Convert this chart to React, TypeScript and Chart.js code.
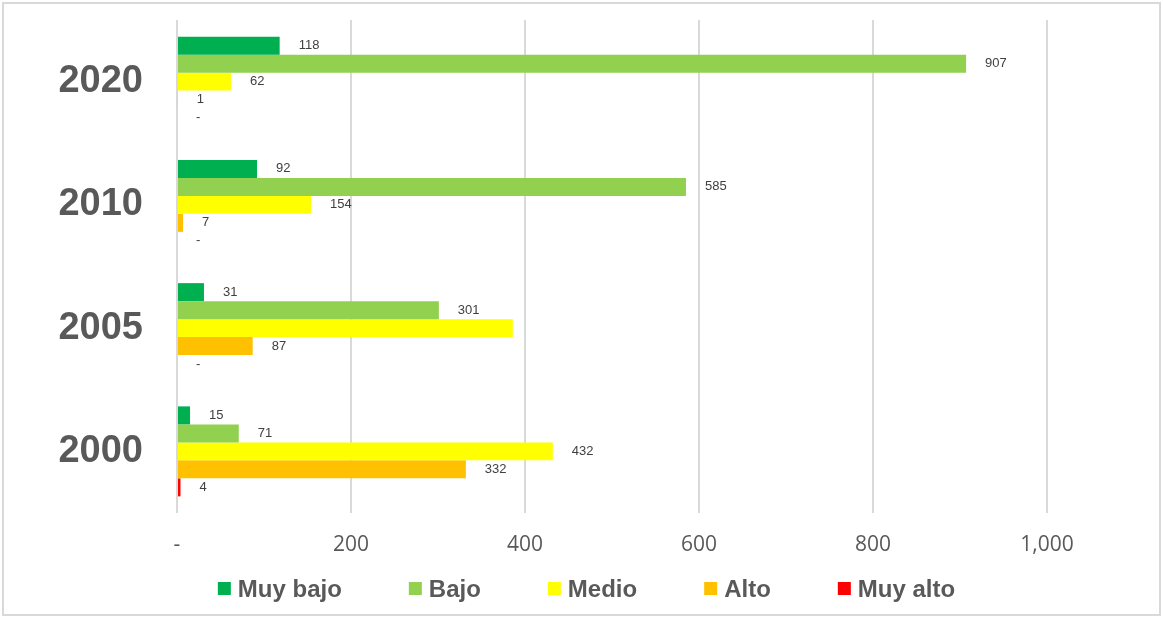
import React, { useEffect, useRef } from 'react';
import { Chart, registerables } from 'chart.js';

Chart.register(...registerables);

const years = ['2020', '2010', '2005', '2000'];
const seriesNames = ['Muy bajo', 'Bajo', 'Medio', 'Alto', 'Muy alto'];
const muyBajo = [118, 92, 31, 15];
const bajo = [907, 585, 301, 71];
const medio = [62, 154, 386, 432];
const alto = [1, 7, 87, 332];
const muyAlto = [0, 0, 0, 4];
const seriesColors = ['#00B050', '#92D050', '#FFFF00', '#FFC000', '#FF0000'];
const xTickValues = [0, 200, 400, 600, 800, 1000];
// value labels not shown in the original
const unlabeled = [{ series: 'Medio', year: '2005' }];

const seriesValues = [muyBajo, bajo, medio, alto, muyAlto];

const fmt = (v: number) => (v === 0 ? '-' : Number(v).toLocaleString('en-US'));

const framePlugin = {
  id: 'frame',
  beforeDraw(chart: any) {
    const ctx = chart.ctx;
    ctx.save();
    ctx.fillStyle = '#ffffff';
    ctx.fillRect(0, 0, chart.width, chart.height);
    ctx.strokeStyle = '#D9D9D9';
    ctx.lineWidth = 2;
    ctx.strokeRect(3, 3, chart.width - 6, chart.height - 5);
    ctx.restore();
  },
};

const valueLabelPlugin = {
  id: 'valueLabels',
  afterDatasetsDraw(chart: any) {
    const ctx = chart.ctx;
    ctx.save();
    ctx.font = '13px "Liberation Sans", Arial, sans-serif';
    ctx.fillStyle = '#404040';
    ctx.textAlign = 'left';
    ctx.textBaseline = 'middle';
    chart.data.datasets.forEach((ds: any, di: number) => {
      const meta = chart.getDatasetMeta(di);
      meta.data.forEach((el: any, i: number) => {
        const year = chart.data.labels[i];
        if (unlabeled.some((u) => u.series === ds.label && u.year === year)) return;
        ctx.fillText(fmt(ds.data[i]), el.x + 19, el.y);
      });
    });
    ctx.restore();
  },
};

const legendPlugin = {
  id: 'customLegend',
  afterDraw(chart: any) {
    const ctx = chart.ctx;
    const box = 13;
    const boxGap = 7;
    const itemGap = 67;
    ctx.save();
    ctx.font = 'bold 24px "Liberation Sans", Arial, sans-serif';
    ctx.textBaseline = 'middle';
    ctx.textAlign = 'left';
    const items = chart.data.datasets.map((ds: any) => ({
      text: ds.label,
      color: ds.backgroundColor,
      w: ctx.measureText(ds.label).width,
    }));
    const total =
      items.reduce((s: number, it: any) => s + box + boxGap + it.w, 0) + itemGap * (items.length - 1);
    let x = (chart.width - total) / 2 + 5;
    const cy = chart.height - 28;
    items.forEach((it: any) => {
      ctx.fillStyle = it.color;
      ctx.fillRect(x, cy - 7, box, box);
      ctx.fillStyle = '#595959';
      ctx.fillText(it.text, x + box + boxGap, cy + 1);
      x += box + boxGap + it.w + itemGap;
    });
    ctx.restore();
  },
};

export default function App() {
  const ref = useRef<HTMLCanvasElement | null>(null);

  useEffect(() => {
    document.body.style.margin = '0';
    if (!ref.current) return;
    const chart = new Chart(ref.current, {
      type: 'bar',
      data: {
        labels: years,
        datasets: seriesNames.map((name, i) => ({
          label: name,
          data: seriesValues[i],
          backgroundColor: seriesColors[i],
          borderWidth: 0,
          categoryPercentage: 0.73,
          barPercentage: 1,
        })),
      },
      options: {
        indexAxis: 'y',
        responsive: false,
        animation: false,
        devicePixelRatio: 1,
        layout: { padding: { top: 20, right: 116, bottom: 50, left: 0 } },
        scales: {
          x: {
            min: 0,
            max: 1000,
            afterBuildTicks: (s: any) => {
              s.ticks = xTickValues.map((v) => ({ value: v }));
            },
            grid: { color: '#D9D9D9', lineWidth: 2, drawTicks: false },
            border: { display: false },
            ticks: {
              padding: 19,
              color: '#595959',
              font: { family: '"Open Sans", "Liberation Sans", sans-serif', size: 21 },
              callback: (v: any) => fmt(Number(v)),
              maxRotation: 0,
            },
            afterFit: (s: any) => {
              s.height = 54;
              s.paddingLeft = 0;
              s.paddingRight = 0;
            },
          },
          y: {
            grid: { display: false, drawTicks: false },
            border: { display: false },
            ticks: {
              padding: 34,
              color: '#595959',
              font: { family: '"Liberation Sans", Arial, sans-serif', size: 38, weight: 'bold' },
            },
            afterFit: (s: any) => {
              s.width = 177;
              s.paddingTop = 0;
              s.paddingBottom = 0;
            },
          },
        },
        plugins: {
          legend: { display: false },
          tooltip: { enabled: false },
        },
      },
      plugins: [framePlugin, valueLabelPlugin, legendPlugin],
    });
    return () => chart.destroy();
  }, []);

  return <canvas ref={ref} width={1163} height={617} style={{ display: 'block' }} />;
}
